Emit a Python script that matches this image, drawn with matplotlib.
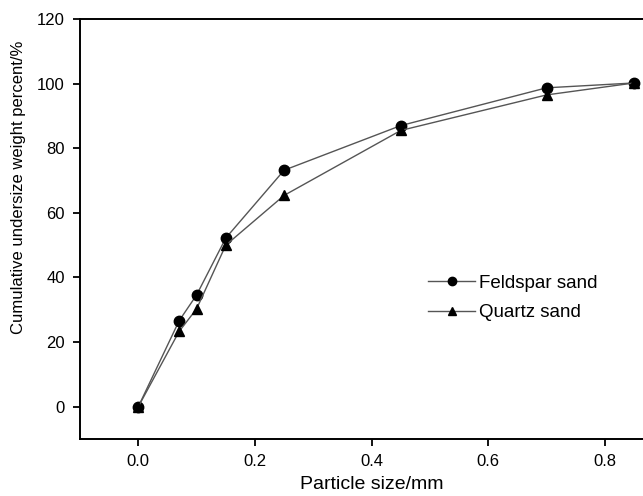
import matplotlib.pyplot as plt
import numpy as np

plt.rcParams['font.family'] = ['Liberation Sans', 'DejaVu Sans']

size_mm = [0.0, 0.07, 0.1, 0.15, 0.25, 0.45, 0.7, 0.85]
feldspar = [0.0, 26.6, 34.6, 52.2, 73.2, 87.0, 98.7, 100.2]
quartz = [0.0, 23.3, 30.3, 50.0, 65.4, 85.5, 96.5, 100.2]

fig = plt.figure(figsize=(6.43, 4.96), dpi=100)
ax = fig.add_axes([0.1244, 0.1149, 0.907, 0.8468])

ax.plot(size_mm, feldspar, color='#555555', lw=1.0, marker='o', ms=7.5,
        mfc='black', mec='black', label='Feldspar sand')
ax.plot(size_mm, quartz, color='#555555', lw=1.0, marker='^', ms=7.5,
        mfc='black', mec='black', label='Quartz sand')

ax.set_xlim(-0.1, 0.9)
ax.set_ylim(-10, 120)
ax.set_xticks([0.0, 0.2, 0.4, 0.6, 0.8])
ax.set_yticks([0, 20, 40, 60, 80, 100, 120])
ax.tick_params(direction='out', length=5, width=1.3, labelsize=12, pad=6)
for s in ['left', 'bottom', 'top']:
    ax.spines[s].set_linewidth(1.4)
ax.spines['right'].set_visible(False)

ax.set_xlabel('Particle size/mm', fontsize=14, labelpad=5)
ax.set_ylabel('Cumulative undersize weight percent/%', fontsize=12)
ax.yaxis.set_label_coords(-0.092, 0.6)

ax.legend(loc='center left', bbox_to_anchor=(0.64, 0.399), bbox_transform=fig.transFigure,
          frameon=False, fontsize=13.5, handlelength=2.5, handletextpad=0.2,
          labelspacing=0.65, markerscale=0.8)

fig.savefig('out.png', dpi=100)
